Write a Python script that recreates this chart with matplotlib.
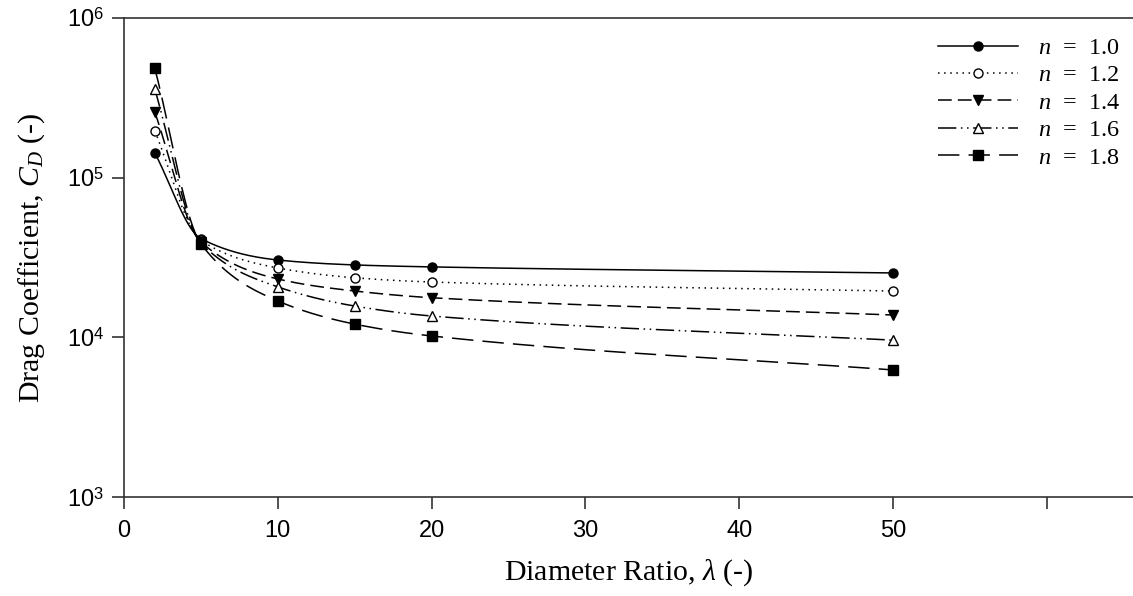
import numpy as np
import matplotlib
matplotlib.use("Agg")
import matplotlib.pyplot as plt
from matplotlib.ticker import FixedLocator, FixedFormatter

# Data (diameter ratio vs drag coefficient)
lam = [2, 5, 10, 15, 20, 50]
cd_n10 = [1.43e5, 4.15e4, 3.05e4, 2.84e4, 2.76e4, 2.53e4]
cd_n12 = [1.96e5, 4.05e4, 2.72e4, 2.36e4, 2.22e4, 1.95e4]
cd_n14 = [2.58e5, 3.95e4, 2.32e4, 1.95e4, 1.77e4, 1.38e4]
cd_n16 = [3.59e5, 3.9e4, 2.07e4, 1.57e4, 1.36e4, 9.6e3]
cd_n18 = [4.86e5, 3.85e4, 1.69e4, 1.21e4, 1.02e4, 6.25e3]
labels = ["1.0", "1.2", "1.4", "1.6", "1.8"]


def pchip(x, y, xs):
    """Monotone cubic curve through the points (only used for drawing)."""
    x = np.asarray(x, float)
    y = np.asarray(y, float)
    h = np.diff(x)
    d = np.diff(y) / h
    m = np.zeros_like(y)
    for k in range(1, len(x) - 1):
        if d[k - 1] * d[k] > 0:
            w1 = 2 * h[k] + h[k - 1]
            w2 = h[k] + 2 * h[k - 1]
            m[k] = (w1 + w2) / (w1 / d[k - 1] + w2 / d[k])
    m[0] = d[0]
    m[-1] = d[-1]
    idx = np.clip(np.searchsorted(x, xs) - 1, 0, len(x) - 2)
    t = (xs - x[idx]) / h[idx]
    h00 = 2 * t**3 - 3 * t**2 + 1
    h10 = t**3 - 2 * t**2 + t
    h01 = -2 * t**3 + 3 * t**2
    h11 = t**3 - t**2
    return (h00 * y[idx] + h10 * h[idx] * m[idx]
            + h01 * y[idx + 1] + h11 * h[idx] * m[idx + 1])


serif = "Liberation Serif"
sans = "Liberation Sans"
plt.rcParams["mathtext.fontset"] = "custom"
plt.rcParams["mathtext.rm"] = sans
plt.rcParams["mathtext.it"] = "Liberation Serif:italic"
plt.rcParams["mathtext.cal"] = "Liberation Serif:italic"

fig = plt.figure(figsize=(11.33, 5.96), dpi=100)
ax = fig.add_axes([0.1094, 0.166, 0.8906, 0.804])

styles = [
    dict(ls="-", marker="o", mfc="black"),
    dict(ls=(0, (1, 3)), marker="o", mfc="white"),
    dict(ls=(0, (9, 4)), marker="v", mfc="black"),
    dict(ls=(0, (12, 3, 1, 3, 1, 3)), marker="^", mfc="white"),
    dict(ls=(0, (14, 6)), marker="s", mfc="black"),
]
series = [cd_n10, cd_n12, cd_n14, cd_n16, cd_n18]

xs = np.linspace(lam[0], lam[-1], 600)
for vals, st, lab in zip(series, styles, labels):
    ys = 10 ** pchip(lam, np.log10(vals), xs)
    ax.plot(xs, ys, color="black", lw=1.1, linestyle=st["ls"])
    ax.plot(lam, vals, linestyle="none", marker=st["marker"], ms=6.5,
            mfc=st["mfc"], mec="black", mew=1.0)
    ax.plot([], [], color="black", lw=1.1, linestyle=st["ls"],
            marker=st["marker"], ms=6.5, mfc=st["mfc"], mec="black",
            mew=1.0, label=r"$n$  =  " + lab)

ax.set_yscale("log")
ax.set_ylim(1e3, 1e6)
ax.set_xlim(0, 65.6)
ax.yaxis.set_major_locator(FixedLocator([1e3, 1e4, 1e5, 1e6]))
ax.yaxis.set_minor_locator(FixedLocator([]))
ax.yaxis.set_major_formatter(FixedFormatter(
    [r"10$^3$", r"10$^4$", r"10$^5$", r"10$^6$"]))
ax.xaxis.set_major_locator(FixedLocator([0, 10, 20, 30, 40, 50, 60]))
ax.xaxis.set_major_formatter(FixedFormatter(["0", "10", "20", "30", "40", "50", ""]))

ax.spines["right"].set_visible(False)
for s in ["left", "bottom", "top"]:
    ax.spines[s].set_linewidth(1.2)
    ax.spines[s].set_color("#333333")
ax.tick_params(axis="both", direction="out", length=8.5, width=1.2,
               color="#333333", labelsize=17)
ax.tick_params(axis="x", pad=8)
ax.tick_params(axis="y", pad=6)
for t in ax.get_xticklabels() + ax.get_yticklabels():
    t.set_fontfamily(sans)

ax.set_xlabel(r"Diameter Ratio, $\lambda$ (-)", fontsize=21.5, family=serif)
ax.set_ylabel(r"Drag Coefficient, $C_D$ (-)", fontsize=21.5, family=serif)
ax.xaxis.set_label_coords(0.5, -0.125)
ax.yaxis.set_label_coords(-0.076, 0.5)

leg = ax.legend(loc="upper right", bbox_to_anchor=(0.987, 0.960), frameon=False,
                prop=dict(family=serif, size=17.5), handlelength=3.3,
                labelspacing=0.22, handletextpad=0.82, borderpad=0,
                borderaxespad=0)

fig.savefig("out.png", dpi=100)
